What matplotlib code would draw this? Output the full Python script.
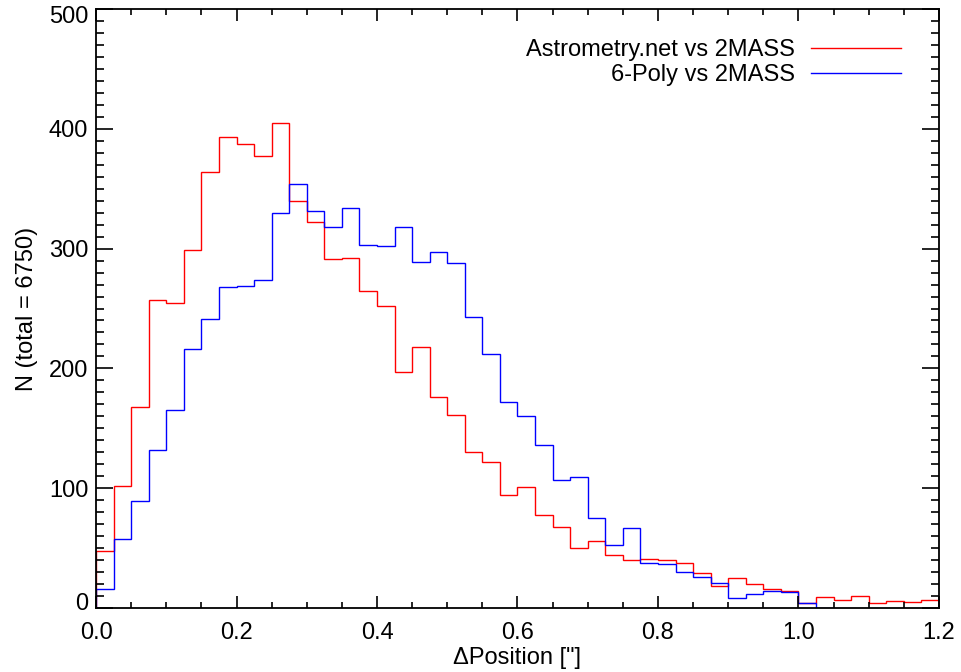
import numpy as np
import matplotlib
matplotlib.use('Agg')
import matplotlib.pyplot as plt
from matplotlib.ticker import MultipleLocator, FormatStrFormatter
from matplotlib.transforms import ScaledTranslation

# histogram counts, bin width 0.025 arcsec starting at 0
bin_width = 0.025
astrometry_counts = [48, 102, 168, 257, 255, 299, 364, 393, 387, 377, 405, 340,
                     322, 291, 292, 265, 252, 197, 218, 176, 161, 130, 122, 94,
                     101, 78, 68, 50, 56, 44, 40, 41, 40, 38, 29, 18,
                     25, 20, 16, 14, 4, 9, 7, 10, 4, 6, 5, 7]
poly_counts = [16, 58, 89, 132, 165, 216, 241, 268, 269, 274, 330, 354,
               331, 318, 334, 303, 302, 318, 289, 297, 288, 243, 212, 172,
               160, 136, 107, 109, 75, 53, 67, 38, 37, 30, 26, 21,
               8, 12, 14, 13, 4, 0]
labels = ['Astrometry.net vs 2MASS', '6-Poly vs 2MASS']
colors = ['red', 'blue']

plt.rcParams['font.family'] = ['Liberation Sans', 'DejaVu Sans']
plt.rcParams['font.size'] = 17

fig = plt.figure(figsize=(9.61, 6.72), dpi=100)
ax = fig.add_axes([0.0999, 0.0952, 0.8772, 0.8914])

for counts, lab, col in zip([astrometry_counts, poly_counts], labels, colors):
    edges = np.arange(len(counts) + 1) * bin_width
    ax.stairs(counts, edges, color=col, lw=1.0, label=lab, baseline=0)

ax.set_xlim(0, 1.2)
ax.set_ylim(0, 500)
ax.xaxis.set_major_locator(MultipleLocator(0.2))
ax.xaxis.set_minor_locator(MultipleLocator(0.05))
ax.yaxis.set_major_locator(MultipleLocator(100))
ax.yaxis.set_minor_locator(MultipleLocator(10))
ax.xaxis.set_major_formatter(FormatStrFormatter('%.1f'))

ax.tick_params(which='both', direction='in', top=True, right=True, width=1.2)
ax.tick_params(axis='x', which='major', length=8.6, pad=10)
ax.tick_params(axis='x', which='minor', length=4.3)
ax.tick_params(axis='y', which='major', length=12.2, pad=5.5)
ax.tick_params(axis='y', which='minor', length=6)
for sp in ax.spines.values():
    sp.set_linewidth(1.3)

# IDL keeps the end labels inside the axis range
fig.canvas.draw()
for tick in ax.yaxis.get_major_ticks():
    loc = tick.get_loc()
    if np.isclose(loc, 0):
        tick.label1.set_transform(tick.label1.get_transform() +
                                  ScaledTranslation(0, 5 / 72, fig.dpi_scale_trans))
    elif np.isclose(loc, 500):
        tick.label1.set_transform(tick.label1.get_transform() +
                                  ScaledTranslation(0, -4 / 72, fig.dpi_scale_trans))

ax.set_xlabel('\u0394Position ["]', labelpad=2)
ax.set_ylabel('N (total = 6750)', labelpad=8)

leg = ax.legend(loc='upper right', bbox_to_anchor=(0.966, 0.965), frameon=False,
                markerfirst=False, handlelength=3.8, handletextpad=0.7,
                labelspacing=0.1, borderaxespad=0)
for h in leg.get_lines():
    h.set_linewidth(1.0)

fig.savefig('out.png', dpi=100)
